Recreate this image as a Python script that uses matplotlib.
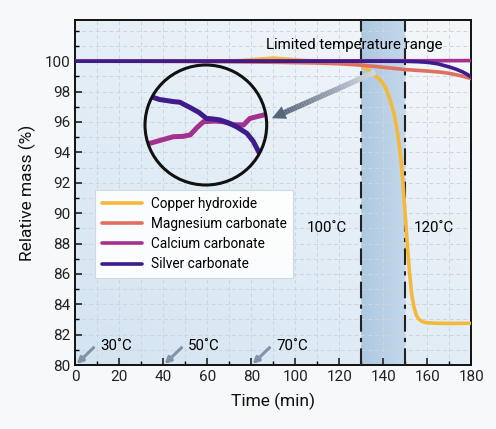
import numpy as np
import matplotlib
matplotlib.use("Agg")
import matplotlib.pyplot as plt
from matplotlib.patches import Circle
from matplotlib.collections import LineCollection
from matplotlib.colors import LinearSegmentedColormap

plt.rcParams['font.family'] = ['Roboto', 'DejaVu Sans']

# ---- data ----
series_names = ['Copper hydroxide', 'Magnesium carbonate', 'Calcium carbonate', 'Silver carbonate']
series_colors = ['#f4b93a', '#e0705e', '#a4318f', '#3f1c8c']

t_copper = [0, 20, 40, 60, 75, 85, 90, 95, 105, 120, 128, 130, 133, 136, 139, 141, 143, 145,
            146.5, 148, 149, 150, 151, 152, 153, 154, 155, 156, 157, 158, 160, 165, 170, 180]
m_copper = [100, 100, 100, 100, 100.04, 100.15, 100.2, 100.15, 100.04, 100, 99.9, 99.72, 99.42,
            99.1, 98.7, 98.3, 97.5, 96.5, 95.3, 93.6, 91.9, 89.9, 87.8, 86.0, 84.6, 83.8, 83.3,
            83.05, 82.93, 82.85, 82.78, 82.75, 82.74, 82.75]

t_magnesium = [0, 30, 60, 90, 110, 120, 130, 140, 150, 160, 166, 170, 175, 180]
m_magnesium = [100, 99.99, 99.97, 99.93, 99.88, 99.83, 99.74, 99.6, 99.45, 99.35, 99.28, 99.2, 99.05, 98.86]

t_calcium = [0, 20, 40, 60, 80, 100, 120, 140, 160, 180]
m_calcium = [100, 100, 100.01, 100.01, 100.02, 100.02, 100.02, 100.03, 100.03, 100.04]

t_silver = [0, 30, 60, 90, 120, 140, 150, 155, 160, 165, 170, 173, 176, 178, 180]
m_silver = [100, 100, 100, 100, 100, 100, 99.99, 99.97, 99.93, 99.82, 99.62, 99.48, 99.3, 99.15, 98.95]

# magnified window shown in the circle (time in min, mass in %)
zoom_t_silver = [55.6, 57.0, 59.4, 60.5, 62.3, 63.8, 65.1, 66.3, 67.4, 68.8, 70.3, 72.1, 73.2, 74.1]
zoom_m_silver = [100.0094, 100.0085, 100.0078, 100.0076, 100.0058, 100.0042, 100.0022, 100.002,
                 100.0017, 100.0008, 99.9994, 99.9972, 99.9945, 99.9911]
zoom_t_calcium = [55.0, 57.0, 59.4, 61.0, 62.3, 63.5, 64.6, 66.5, 68.0, 69.8, 71.5, 72.6, 74.9]
zoom_m_calcium = [99.9937, 99.9948, 99.9961, 99.9962, 99.9967, 99.9992, 100.0011, 100.0013,
                  100.0011, 100.0001, 100.0, 100.0022, 100.0033]

temp_labels = ['30˚C', '50˚C', '70˚C']
temp_times = [0, 40, 80]

# ---- figure ----
fig = plt.figure(figsize=(4.96, 4.29), dpi=100, facecolor='#f6f8f9')
ax = fig.add_axes([0.152, 0.149, 0.798, 0.804])

# axes background gradient (light blue bottom-left -> near white top-right)
gx, gy = np.meshgrid(np.linspace(0, 1, 200), np.linspace(0, 1, 200))
g = (gx * 0.45 + gy * 0.55)
bg_cmap = LinearSegmentedColormap.from_list('bg', ['#d3e4f1', '#e4eef6', '#f5f8fa'])
ax.imshow(g, cmap=bg_cmap, extent=[0, 1, 0, 1], transform=ax.transAxes,
          origin='lower', aspect='auto', zorder=0)

# shaded temperature range
sh_cmap = LinearSegmentedColormap.from_list('sh', ['#adc8e0', '#c2d7ea'])
xe = np.linspace(130, 150, 41)
ye = np.array([80, 102.7])
cval = np.linspace(0, 1, 40).reshape(1, -1)
ax.pcolormesh(xe, ye, cval, cmap=sh_cmap, vmin=0, vmax=1, shading='flat', zorder=0.5,
              edgecolors='none', antialiased=False)

ax.set_xlim(0, 180)
ax.set_ylim(80, 102.7)
ax.set_xticks(np.arange(0, 181, 20))
ax.set_xticks(np.arange(0, 181, 10), minor=True)
ax.set_yticks(np.arange(80, 101, 2))
ax.set_yticks(np.arange(80, 103, 1), minor=True)
ax.set_axisbelow('line')
ax.grid(True, which='both', color='#cdd6de', ls=(0, (4, 3)), lw=0.7)
ax.tick_params(which='major', direction='in', length=5, width=1.2, labelsize=11, colors='#222222')
ax.tick_params(which='minor', direction='in', length=3, width=1.0)
for sp in ax.spines.values():
    sp.set_linewidth(1.4)
    sp.set_color('#111111')

for xv in [130, 150]:
    ax.axvline(xv, color='#222222', lw=1.5, ls=(0, (8, 3, 2, 3)), zorder=3)

lines = []
for tt, mm, name, col in zip([t_copper, t_magnesium, t_calcium, t_silver],
                             [m_copper, m_magnesium, m_calcium, m_silver],
                             series_names, series_colors):
    ln, = ax.plot(tt, mm, color=col, lw=2.6, label=name, zorder=4, solid_capstyle='round')
    lines.append(ln)

leg = ax.legend(handles=lines, loc='upper left', bbox_to_anchor=(0.049, 0.507),
                borderaxespad=0, fontsize=9.8, handlelength=3.0, handletextpad=0.6,
                fancybox=False, framealpha=0.9, edgecolor='#cfd6dc', borderpad=0.5,
                labelspacing=0.45)
leg.get_frame().set_linewidth(0.8)
leg.set_zorder(5)

ax.set_xlabel('Time (min)', fontsize=12.5, labelpad=6, color='#111111')
ax.set_ylabel('Relative mass (%)', fontsize=12.5, labelpad=6, color='#111111')

ax.text(127, 101.05, 'Limited temperature range', fontsize=10.8, ha='center', va='center', zorder=6)
ax.text(114.5, 89.0, '100˚C', fontsize=10.8, ha='center', va='center', zorder=6)
ax.text(163, 89.0, '120˚C', fontsize=10.8, ha='center', va='center', zorder=6)

# small temperature arrows along the bottom
for t0, lab in zip(temp_times, temp_labels):
    ax.annotate('', xy=(t0 + 0.6, 80.07), xytext=(t0 + 8.3, 81.15),
                arrowprops=dict(arrowstyle='-|>', color='#8193a8', lw=2.2,
                                mutation_scale=9, shrinkA=0, shrinkB=0), zorder=6)
    ax.text(t0 + 11.3, 81.25, lab, fontsize=10.8, ha='left', va='center', zorder=6)

# big arrow with gradient shaft toward the magnifier
tail = np.array([136.3, 99.28])
head = np.array([89.4, 96.25])
n = 40
pts_x = np.linspace(tail[0], head[0] + (tail[0] - head[0]) * 0.08, n + 1)
pts_y = np.linspace(tail[1], head[1] + (tail[1] - head[1]) * 0.08, n + 1)
segs = [[(pts_x[i], pts_y[i]), (pts_x[i + 1], pts_y[i + 1])] for i in range(n)]
ar_cmap = LinearSegmentedColormap.from_list('ar', ['#d3dae3', '#55657b'])
lc = LineCollection(segs, colors=ar_cmap(np.linspace(0, 1, n)), linewidths=4.0,
                    capstyle='butt', zorder=6)
ax.add_collection(lc)
ax.annotate('', xy=tuple(head), xytext=(pts_x[-4], pts_y[-4]),
            arrowprops=dict(arrowstyle='-|>', color='#55657b', lw=0.1,
                            mutation_scale=24, shrinkA=0, shrinkB=0), zorder=7)

# magnifier circle
axin = fig.add_axes([145 / 496, (429 - 185) / 429, 121.7 / 496, 120 / 429])
axin.set_xlim(54.5, 75.5)
axin.set_ylim(99.98, 100.02)
axin.patch.set_alpha(0)
axin.axis('off')
circ = Circle((0.5, 0.5), 0.5, transform=axin.transAxes, fill=False, ec='#111111',
              lw=2.2, zorder=10, clip_on=False)
axin.add_patch(circ)
clipc = Circle((0.5, 0.5), 0.5, transform=axin.transAxes)
l1, = axin.plot(zoom_t_calcium, zoom_m_calcium, color=series_colors[2], lw=3.6, zorder=4)
l2, = axin.plot(zoom_t_silver, zoom_m_silver, color=series_colors[3], lw=3.6, zorder=5)
for l in (l1, l2):
    l.set_clip_path(clipc)

fig.savefig('out.png', dpi=100, facecolor=fig.get_facecolor())
